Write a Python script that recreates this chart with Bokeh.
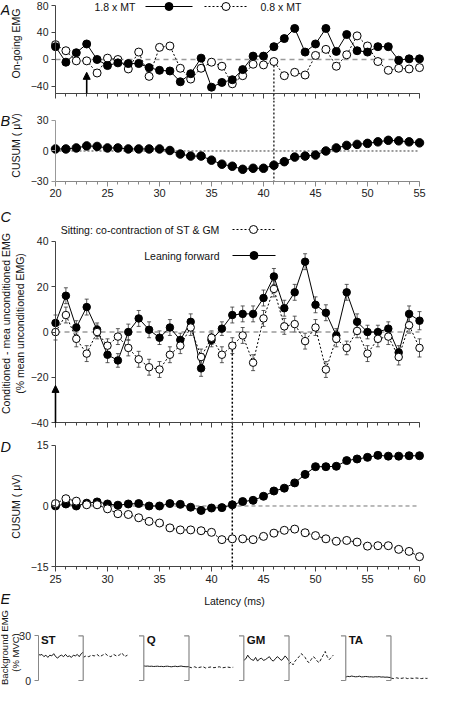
import math
import numpy as np
from bokeh.plotting import figure
from bokeh.layouts import column
from bokeh.models import (Range1d, FixedTicker, Arrow, NormalHead, Whisker,
                          TeeHead, ColumnDataSource)
from bokeh.core.properties import value
from bokeh.embed import file_html
from bokeh.resources import INLINE

FONT = "Liberation Sans"
AX = "#444444"

# ---------------- data ----------------
latency_ab = list(range(20, 56))
ongoing_18mt = [19, -4, 10, 23, 0, -9, -5, -6, -6, -12, -16, -17, -33, -21, 2, -41, -34, -30,
                -15, 5, 5, 19, 31, 46, 11, 23, 46, 12, 37, 13, 11, 19, 19, -1, 1, 1]
ongoing_08mt = [22, 13, -2, -2, -20, 2, 0, -14, 11, -25, 18, 20, -13, -29, -13, -4, -10, -36,
                -24, -7, -8, -3, -24, -19, -23, 6, 15, -10, 7, 35, 20, -3, -16, -13, -14, -12]
cusum_18mt = [2, 2, 3, 5, 4.5, 3, 3, 2, 2, 2, 2, 0.5, -3, -5, -5, -9, -13, -15, -18, -17,
              -17, -14, -10.5, -6, -5, -4, 0, 3, 5.5, 6.5, 7.5, 9, 10.5, 10, 9, 8]

latency_cd = list(range(25, 61))
leaning = [4, 16, 2, 11, 1, -10, -12.5, 0, 6, 1, -2.5, 2, -3.5, 4.5, -16, -3.5, 1.5, 7.5, 8, 8,
           15, 24.5, 10.5, 17.5, 31, 12, 8.5, -1.5, 17.5, 4.5, 0, 0, 1.5, -9, 8, 5]
leaning_err = [3.5, 3.5, 3, 3.5, 3, 3.5, 3, 3.5, 3.5, 3.5, 3, 3.5, 3, 3.5, 3.5, 3, 3, 3.5,
               3.5, 3.5, 3.5, 3.5, 3.5, 3.5, 3.5, 3.5, 3.5, 3, 3.5, 3.5, 3, 3, 3, 3, 3.5, 4]
sitting = [0, 7.5, -3, -9.5, 0, -6, -2, -7, -12, -15.5, -16.5, -10, -6, 2, -11, -2.5, -10, -6,
           -1.5, -13.5, 6, 19, 2.5, 3.5, -4, 2, -16.5, -3, -7, 0.5, -9.5, -3, -2, -11, 3, -7]
sitting_err = [3.5, 3.5, 3.5, 3.5, 3, 3, 3.5, 3.5, 3.5, 3.5, 3.5, 3.5, 3.5, 3.5, 3.5, 3, 3.5,
               3.5, 3.5, 3.5, 3.5, 3.5, 3.5, 3.5, 3.5, 3.5, 3.5, 3.5, 3, 3, 3.5, 3.5, 3.5, 3.5, 3.5, 4]
cusum_leaning = [0, 0.5, 0, 0.7, 1, 0.5, 0.2, 0.5, 0.6, 0, 0, 0.6, 0.4, -0.3, -1.1, -0.5, -0.4,
                 0.3, 1.1, 1.4, 2.4, 3.7, 4.4, 5.7, 7.8, 9.7, 9.7, 9.8, 11.2, 11.6, 12, 12.5,
                 12.3, 12.3, 12.4, 12.4]
cusum_sitting = [0.6, 1.8, 1.2, 0.3, 0.3, -0.7, -1.9, -2.1, -2.9, -3.8, -4.2, -5.4, -5.9, -5.9,
                 -6.1, -6.5, -8.3, -8.1, -8.1, -8.3, -7.5, -6.7, -6, -5.7, -6.6, -7.3, -8.1,
                 -8.7, -8.5, -8.9, -9.9, -9.8, -9.8, -10.7, -11.2, -12.5]

xticks_ab = [20, 25, 30, 35, 40, 45, 50, 55]
xticks_cd = [25, 30, 35, 40, 45, 50, 55, 60]
yticks_a = [-40, 0, 40, 80]
yticks_b = [-30, 0, 30]
yticks_c = [-40, -20, 0, 20, 40]
yticks_d = [-15, 0, 15]
yticks_e = [0, 30]

stim_ab, stim_tip_a = 23, -19
stim_cd, stim_tip_c = 25, -23.5
onset_ab = 41
onset_cd = 42

muscles = ["ST", "Q", "GM", "TA"]
bg_on = [
    [18, 17, 17.5, 16, 17, 15.5, 17, 16.5, 18, 16, 15, 16.5, 17, 16, 17.5, 16, 16.5, 15.5, 17,
     16.5, 17.5, 16, 18, 19],
    [9.8, 9.6, 9.7, 9.5, 9.6, 9.4, 9.5, 9.6, 9.4, 9.5, 9.3, 9.5, 9.6, 9.4, 9.2, 9.4, 9.6, 9.3,
     9.5, 9.7, 9.4, 9.3, 9.2, 9.4],
    [13.5, 14.5, 17, 15, 14, 13.5, 15.5, 13, 14.5, 15, 13.5, 14, 15, 16, 14, 13, 14.5, 16, 15,
     13.5, 14.5, 16.5, 15, 13],
    [2.3, 2.8, 2.6, 3.0, 2.7, 2.5, 2.6, 2.9, 2.4, 2.5, 2.7, 2.6, 2.4, 2.5, 2.3, 2.5, 2.4, 2.6,
     2.3, 2.4, 2.2, 2.3, 2.1, 2.0],
]
bg_off = [
    [15.5, 16.5, 16, 17, 16.5, 17.5, 16, 17, 18, 16.5, 16, 17.5, 16.5, 17, 18.5, 16, 17],
    [9.0, 8.6, 9.2, 8.5, 8.9, 9.3, 8.4, 8.8, 9.1, 8.6, 8.9, 9.2, 8.5, 8.8, 9.0, 8.7, 8.9],
    [11, 12.5, 10.5, 13, 14.5, 16, 18, 17, 15.5, 13, 12, 14, 16, 15, 13, 12, 14.5, 17, 19.5, 16,
     14, 15.5, 17],
    [1.6, 1.3, 1.8, 1.4, 1.5, 1.9, 1.3, 1.6, 1.4, 1.7, 1.5, 1.3, 1.6, 1.4, 1.7, 1.5, 1.4],
]

# ---------------- layout helpers ----------------
W = 444
RB = 17                    # right border
AXIS_PX = 55               # canvas x of the y axes (A-D)
PX_PER_MS = 10.4
FW = W - RB


def xr_for(first):
    return (first - AXIS_PX / PX_PER_MS, first + (FW - AXIS_PX) / PX_PER_MS)


def base_fig(height, xr, yr, right=RB):
    p = figure(width=W, height=height, x_range=Range1d(*xr), y_range=Range1d(*yr),
               output_backend="svg", toolbar_location=None,
               min_border_left=0, min_border_right=right, min_border_top=0,
               min_border_bottom=0)
    p.outline_line_color = None
    p.xgrid.visible = False
    p.ygrid.visible = False
    return p


def style_axis(ax, color=AX):
    ax.axis_line_color = color
    ax.major_tick_line_color = color
    ax.minor_tick_line_color = color
    ax.major_tick_in = 0
    ax.minor_tick_in = 0
    ax.major_tick_out = 5
    ax.minor_tick_out = 3
    ax.major_label_text_font = FONT
    ax.major_label_text_font_size = "11px"
    ax.major_label_text_color = "#222222"


def setup_y(p, loc, bounds, ticks, color=AX):
    ax = p.yaxis[0]
    style_axis(ax, color)
    ax.fixed_location = loc
    ax.bounds = bounds
    ax.ticker = FixedTicker(ticks=ticks)
    ax.major_tick_out = 4
    ax.major_label_standoff = 3
    ax.major_label_text_font_size = "10.5px"


def setup_x(p, loc, bounds, ticks, minor, show_labels, color=AX):
    ax = p.xaxis[0]
    style_axis(ax, color)
    ax.fixed_location = loc
    ax.bounds = bounds
    ax.ticker = FixedTicker(ticks=ticks, minor_ticks=minor)
    if show_labels:
        ax.major_label_standoff = 3
    else:
        ax.major_label_overrides = {t: "" for t in ticks}


def c2d(p, cx, cy):
    x0, x1 = p.x_range.start, p.x_range.end
    y0, y1 = p.y_range.start, p.y_range.end
    fw = p.width - p.min_border_left - p.min_border_right
    fh = p.height - p.min_border_top - p.min_border_bottom
    return (x0 + (cx - p.min_border_left) / fw * (x1 - x0),
            y1 - (cy - p.min_border_top) / fh * (y1 - y0))


def ctext(p, cx, cy, txt, size="10.5px", align="left", style="normal", angle=0.0):
    x, y = c2d(p, cx, cy)
    p.text([x], [y], text=[txt], text_font=value(FONT), text_font_size=size,
           text_font_style=style, text_align=align, text_baseline="middle",
           text_color="#111111", angle=angle)


def letter(p, txt, cx, cy):
    ctext(p, cx, cy, txt, size="14.5px", style="italic")


def vlabel(p, cx, cy, txt, size="10.5px"):
    ctext(p, cx, cy, txt, size=size, align="center", angle=math.pi / 2)


def legend_item(p, cx0, cx1, cy, filled, dashed):
    (x0, y), (x1, _) = c2d(p, cx0, cy), c2d(p, cx1, cy)
    p.line([x0, x1], [y, y], line_color="black", line_width=1.2,
           line_dash="2 2" if dashed else "solid")
    p.scatter([(x0 + x1) / 2], [y], size=8, marker="circle",
              fill_color="black" if filled else "white", line_color="black", line_width=1)


# ---------------- Panel A ----------------
A_BOT = -60.74
pA = base_fig(100, xr_for(latency_ab[0]), (A_BOT, 87.4))
setup_y(pA, latency_ab[0], (-50.37, 80), yticks_a)
setup_x(pA, -50.37, (latency_ab[0], latency_ab[-1]), xticks_ab, latency_ab, False)
pA.line([latency_ab[0], latency_ab[-1]], [0, 0], line_color="#9a9a9a", line_width=1.5,
        line_dash="5 4")
i41 = latency_ab.index(onset_ab)
pA.line([onset_ab, onset_ab], [ongoing_08mt[i41], A_BOT], line_color="black",
        line_width=1.2, line_dash="2 2")
pA.line(latency_ab, ongoing_08mt, line_color="black", line_width=1, line_dash="2 2")
pA.scatter(latency_ab, ongoing_08mt, size=8, marker="circle", fill_color="white",
           line_color="black", line_width=1)
pA.line(latency_ab, ongoing_18mt, line_color="black", line_width=1)
pA.scatter(latency_ab, ongoing_18mt, size=8, marker="circle", fill_color="black",
           line_color="black")
pA.add_layout(Arrow(end=NormalHead(size=7, fill_color="black", line_color="black"),
                    x_start=stim_ab, y_start=-50.37, x_end=stim_ab, y_end=stim_tip_a,
                    line_width=1.6, line_color="black"))
ctext(pA, 94, 6, "1.8 x MT")
legend_item(pA, 145, 192, 6, True, False)
legend_item(pA, 204, 247, 6, False, True)
ctext(pA, 260, 6, "0.8 x MT")
letter(pA, "A", 0, 9)
vlabel(pA, 15.5, 43, "On-going EMG")

# ---------------- Panel B ----------------
B_TOP = 49.67
pB = base_fig(103, xr_for(latency_ab[0]), (-51.64, B_TOP))
setup_y(pB, latency_ab[0], (-30, 30), yticks_b, color="#999999")
setup_x(pB, -30, (latency_ab[0], latency_ab[-1]), xticks_ab, latency_ab, True, color="#888888")
pB.line([latency_ab[0], latency_ab[-1]], [0, 0], line_color="#222222", line_width=0.9,
        line_dash="2 2")
pB.line([onset_ab, onset_ab], [B_TOP, -30], line_color="black", line_width=1.2,
        line_dash="2 2")
pB.line(latency_ab, cusum_18mt, line_color="black", line_width=1)
pB.scatter(latency_ab, cusum_18mt, size=8.5, marker="circle", fill_color="black",
           line_color="black")
letter(pB, "B", 0, 20)
vlabel(pB, 15.5, 45, "CUSUM ( μV)")

# ---------------- Panel C ----------------
C_BOT = -42.5
pC = base_fig(225, xr_for(latency_cd[0]), (C_BOT, 56.64))
setup_y(pC, latency_cd[0], (-40, 40), yticks_c)
setup_x(pC, -40, (latency_cd[0], latency_cd[-1]), xticks_cd, latency_cd, False)
pC.line([latency_cd[0], latency_cd[-1]], [0, 0], line_color="#9a9a9a", line_width=1.5,
        line_dash="5 4")
i42 = latency_cd.index(onset_cd)
pC.line([onset_cd, onset_cd], [sitting[i42], C_BOT], line_color="black", line_width=1.5,
        line_dash="2 2")
src_l = ColumnDataSource(dict(x=latency_cd,
                              upper=[v + e for v, e in zip(leaning, leaning_err)],
                              lower=[v - e for v, e in zip(leaning, leaning_err)]))
src_s = ColumnDataSource(dict(x=latency_cd,
                              upper=[v + e for v, e in zip(sitting, sitting_err)],
                              lower=[v - e for v, e in zip(sitting, sitting_err)]))
for s in (src_l, src_s):
    pC.add_layout(Whisker(base="x", upper="upper", lower="lower", source=s,
                          line_color="#333333", line_width=0.8,
                          upper_head=TeeHead(size=4, line_color="#333333", line_width=0.8),
                          lower_head=TeeHead(size=4, line_color="#333333", line_width=0.8)))
pC.line(latency_cd, leaning, line_color="black", line_width=1)
pC.scatter(latency_cd, leaning, size=7.5, marker="circle", fill_color="black",
           line_color="black")
pC.line(latency_cd, sitting, line_color="black", line_width=1, line_dash="2 2")
pC.scatter(latency_cd, sitting, size=7.5, marker="circle", fill_color="white",
           line_color="black", line_width=1)
pC.add_layout(Arrow(end=NormalHead(size=7, fill_color="black", line_color="black"),
                    x_start=stim_cd, y_start=-40, x_end=stim_cd, y_end=stim_tip_c,
                    line_width=1.6, line_color="black"))
ctext(pC, 219, 26, "Sitting: co-contraction of ST & GM", align="right")
legend_item(pC, 232, 274, 26, False, True)
ctext(pC, 219, 52, "Leaning forward", align="right")
legend_item(pC, 232, 275, 52, True, False)
letter(pC, "C", 0, 13)
vlabel(pC, 5.5, 120, "Conditioned - mea unconditioned EMG")
vlabel(pC, 19.5, 120, "(% mean unconditioned EMG)")

# ---------------- Panel D ----------------
D_TOP = 19.12
pD = base_fig(180, xr_for(latency_cd[0]), (-25.29, D_TOP))
setup_y(pD, latency_cd[0], (-15, 15), yticks_d)
setup_x(pD, -15, (latency_cd[0], latency_cd[-1]), xticks_cd, latency_cd, True)
pD.line([latency_cd[0], latency_cd[-1]], [0, 0], line_color="#666666", line_width=0.9,
        line_dash="4 3")
pD.line([onset_cd, onset_cd], [D_TOP, -15], line_color="black", line_width=1.5,
        line_dash="2 2")
pD.line(latency_cd, cusum_leaning, line_color="black", line_width=1)
pD.scatter(latency_cd, cusum_leaning, size=8, marker="circle", fill_color="black",
           line_color="black")
pD.line(latency_cd, cusum_sitting, line_color="black", line_width=1, line_dash="2 2")
pD.scatter(latency_cd, cusum_sitting, size=8, marker="circle", fill_color="white",
           line_color="black", line_width=1)
letter(pD, "D", 0, 18)
vlabel(pD, 15.5, 78, "CUSUM ( μV)")
ctext(pD, 234, 172, "Latency (ms)", align="center")
letter(pD, "E", 0, 170)

# ---------------- Panel E ----------------
pE = base_fig(78, (-39, 405), (-4.02, 48.31), right=0)
pE.xaxis.visible = False
setup_y(pE, 0, (0, 30), yticks_e, color="#888888")
win = 47
group_x = [0, 110, 214, 320]
bx = []
for gi, (name, on, off) in enumerate(zip(muscles, bg_on, bg_off)):
    x0 = group_x[gi]
    pE.line(np.linspace(x0, x0 + win, len(on)), on, line_color="black", line_width=0.9)
    pE.line(np.linspace(x0 + win, x0 + 2 * win - 1, len(off)), off, line_color="black",
            line_width=0.9, line_dash="3 2")
    if gi > 0:
        bx.append(x0)
    bx.append(x0 + win)
    pE.text([x0 + 3], [27.3], text=[name], text_font=value(FONT), text_font_size="11.5px",
            text_font_style="bold", text_align="left", text_baseline="middle",
            text_color="#111111")
bxa = np.array(bx, dtype=float)
pE.segment(bxa, 0, bxa, 30, line_color="#888888", line_width=1.2)
pE.segment(bxa - 5, 0, bxa, 0, line_color="#888888", line_width=1.2)
pE.segment(bxa - 5, 30, bxa, 30, line_color="#888888", line_width=1.2)
vlabel(pE, 4.5, 39, "Background EMG", size="9.5px")
vlabel(pE, 15.5, 44, "(% MVC)", size="9.5px")

layout = column(pA, pB, pC, pD, pE, spacing=0)
with open("out.html", "w") as f:
    f.write(file_html(layout, INLINE))
